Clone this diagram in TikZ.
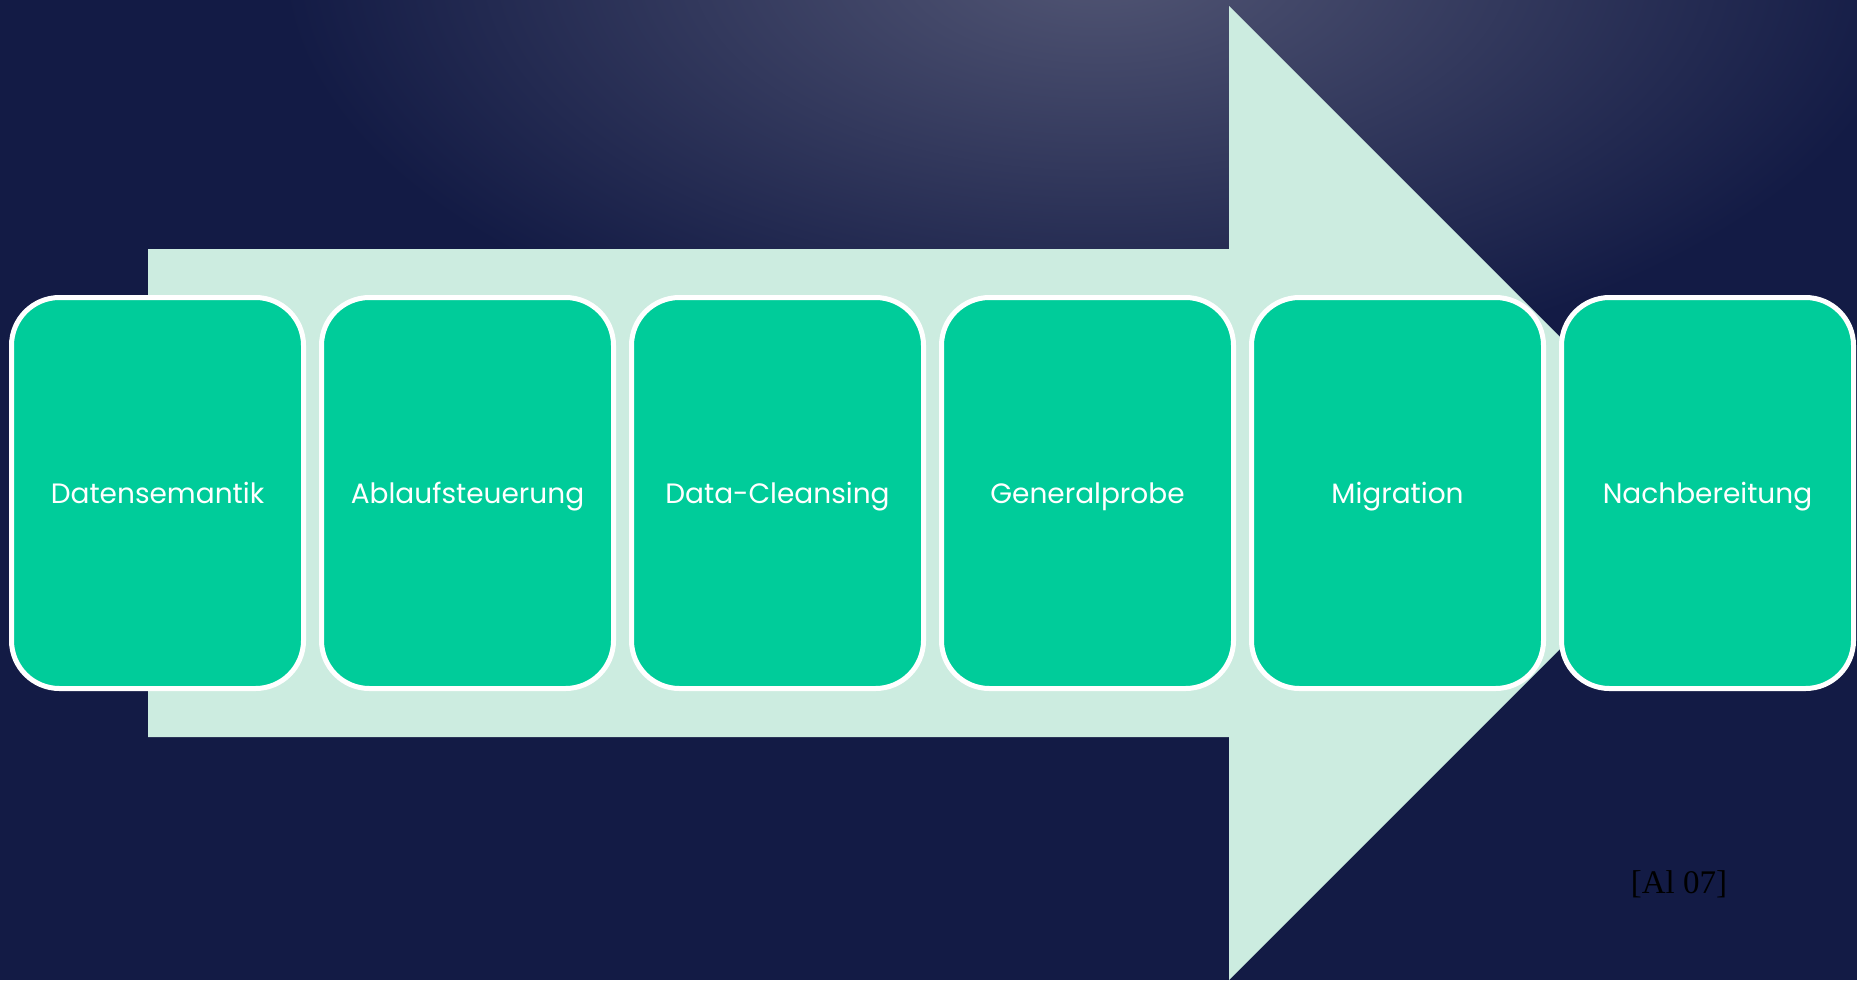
\documentclass[tikz,border=0pt]{standalone}
\usepackage{fontspec}
\newfontfamily\boxfont{Poppins}
\setmainfont{Liberation Serif}
\definecolor{navy}{RGB}{19,27,69}
\definecolor{glow}{RGB}{82,86,116}
\definecolor{arrowfill}{RGB}{204,236,224}
\definecolor{boxfill}{RGB}{0,204,154}
\tikzset{
  stepbox/.style={rectangle, rounded corners=48pt, minimum width=292pt, minimum height=391pt,
    fill=boxfill, draw=white, line width=5pt, text=white, font=\boxfont\fontsize{28}{32}\selectfont,
    inner sep=0pt, text height=21pt, text depth=0pt},
}
\begin{document}
\begin{tikzpicture}[x=1pt,y=-1pt]
\useasboundingbox (0,0) rectangle (1857,980);
\fill[navy] (0,0) rectangle (1857,980);
\begin{scope}
  \clip (0,0) rectangle (1857,980);
  \shade[inner color=glow, outer color=navy] (1100,-40) ellipse [x radius=820, y radius=420];
\end{scope}
\fill[arrowfill] (148,249) -- (1229,249) -- (1229,6) -- (1716,493) -- (1229,980) -- (1229,737) -- (148,737) -- cycle;
\node[stepbox] (b1) at (157.5,493) {Datensemantik};
\node[stepbox] (b2) at (467.5,493) {Ablaufsteuerung};
\node[stepbox] (b3) at (777.5,493) {Data-Cleansing};
\node[stepbox] (b4) at (1087.5,493) {Generalprobe};
\node[stepbox] (b5) at (1397.5,493) {Migration};
\node[stepbox] (b6) at (1707.5,493) {Nachbereitung};
\node[text=black, font=\fontsize{33}{38}\selectfont, anchor=base, inner sep=0pt] (ref) at (1679,893) {[Al 07]};
\end{tikzpicture}
\end{document}
